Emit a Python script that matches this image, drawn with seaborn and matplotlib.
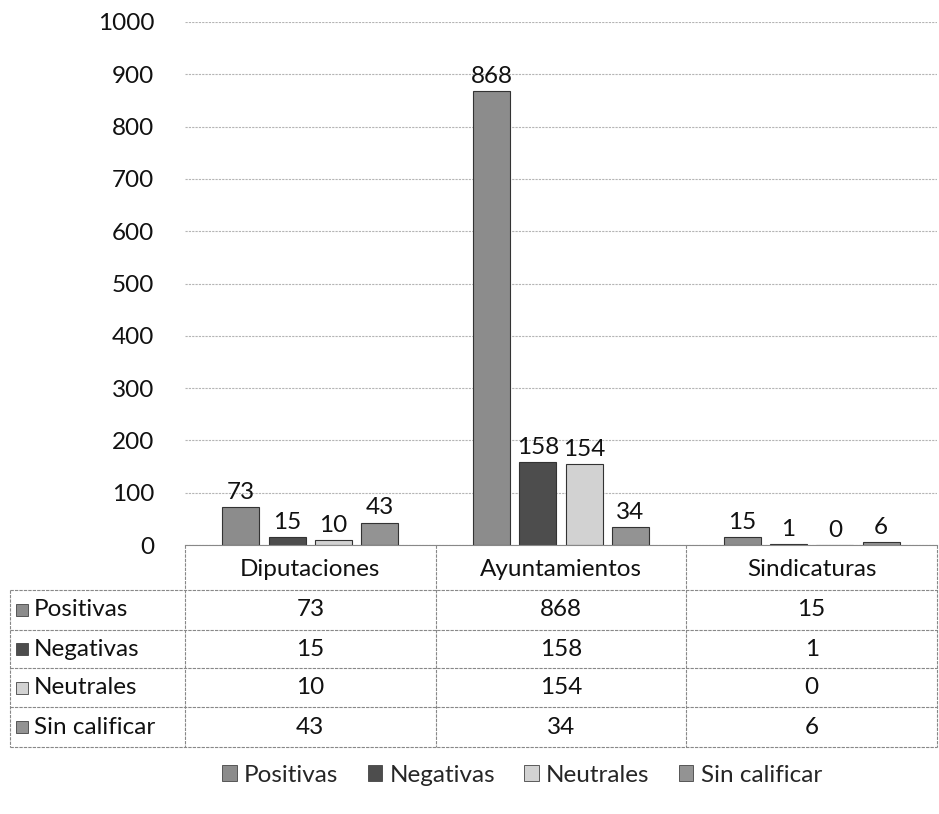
import pandas as pd
import matplotlib.pyplot as plt
from matplotlib.patches import Rectangle
from matplotlib.lines import Line2D
import seaborn as sns

# ---------------------------------------- DATA ----------------------------------------#
categorias = ['Diputaciones', 'Ayuntamientos', 'Sindicaturas']
series = ['Positivas', 'Negativas', 'Neutrales', 'Sin calificar']
positivas = [73, 868, 15]
negativas = [15, 158, 1]
neutrales = [10, 154, 0]
sin_calificar = [43, 34, 6]
colores = ['#8c8c8c', '#4d4d4d', '#d2d2d2', '#939393']

valores = [positivas, negativas, neutrales, sin_calificar]
rows = []
for s, vals in zip(series, valores):
    for c, v in zip(categorias, vals):
        rows.append({'Categoria': c, 'Serie': s, 'Valor': v})
df = pd.DataFrame(rows)

# ---------------------------------------- PLOT ----------------------------------------#
sns.set_style('white')
plt.rcParams['font.family'] = ['Lato', 'DejaVu Sans']
FS = 17.5

W, H = 939, 814
fig = plt.figure(figsize=(W / 100, H / 100), dpi=100)

def fx(px):
    return px / W

def fy(py):
    return 1 - py / H

x0, x1, y0, y1 = 185, 937, 545, 22
ax = fig.add_axes([fx(x0), fy(y0), fx(x1) - fx(x0), fy(y1) - fy(y0)])

sns.barplot(data=df, x='Categoria', y='Valor', hue='Serie', order=categorias,
            hue_order=series, palette=colores, width=0.74, gap=0.2,
            edgecolor='#333333', linewidth=0.8, legend=False, ax=ax)
for cont in ax.containers:
    ax.bar_label(cont, padding=3, fontsize=FS, color='#111111')

ax.set_ylim(0, 1000)
ax.set_xlim(-0.5, 2.5)
ax.set_yticks(range(0, 1001, 100))
ax.tick_params(axis='y', labelsize=FS, length=0, pad=22, colors='#111111')
ax.set_xticks([])
ax.set_xlabel('')
ax.set_ylabel('')
ax.grid(axis='y', color='#b5b5b5', linewidth=0.8, linestyle=(0, (2, 1)))
ax.set_axisbelow(True)
for sp in ['top', 'right', 'left']:
    ax.spines[sp].set_visible(False)
ax.spines['bottom'].set_color('#888888')

# ---------------------------------------- DATA TABLE ----------------------------------------#
col_edges = [x0 + (x1 - x0) * i / 3 for i in range(4)]
row_lines = [590, 630, 668, 707, 747]
lab_left = 10
lc = '#888888'

def hline(xa, xb, y):
    fig.add_artist(Line2D([fx(xa), fx(xb)], [fy(y), fy(y)], color=lc, lw=0.8, linestyle=(0, (3, 1))))

def vline(x, ya, yb):
    fig.add_artist(Line2D([fx(x), fx(x)], [fy(ya), fy(yb)], color=lc, lw=0.8, linestyle=(0, (3, 1))))

for y in row_lines:
    hline(lab_left, x1, y)
for x in col_edges:
    vline(x, y0, row_lines[-1])
vline(lab_left, row_lines[0], row_lines[-1])

for i, c in enumerate(categorias):
    xc = (col_edges[i] + col_edges[i + 1]) / 2
    fig.text(fx(xc), fy((y0 + row_lines[0]) / 2 + 2), c, ha='center', va='center', fontsize=FS, color='#111111')

for r, (s, vals, col) in enumerate(zip(series, valores, colores)):
    yc = (row_lines[r] + row_lines[r + 1]) / 2
    fig.add_artist(Rectangle((fx(16), fy(yc + 6)), fx(12), fy(yc - 6) - fy(yc + 6),
                             facecolor=col, edgecolor='#444444', lw=0.6))
    fig.text(fx(34), fy(yc), s, ha='left', va='center', fontsize=FS, color='#111111')
    for i, v in enumerate(vals):
        xc = (col_edges[i] + col_edges[i + 1]) / 2
        fig.text(fx(xc), fy(yc), str(v), ha='center', va='center', fontsize=FS, color='#111111')

# ---------------------------------------- LEGEND ----------------------------------------#
handles = [Rectangle((0, 0), 1, 1, facecolor=c, edgecolor='#444444', lw=0.6) for c in colores]
fig.legend(handles, series, loc='center', bbox_to_anchor=(fx(522), fy(775)), ncol=4, frameon=False,
           fontsize=FS, handlelength=0.6, handleheight=0.6, handletextpad=0.3, columnspacing=1.2)

plt.savefig('out.png', dpi=100)
